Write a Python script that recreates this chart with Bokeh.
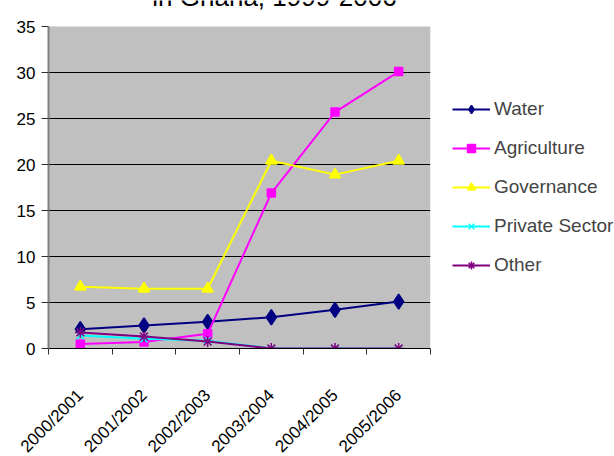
import math
from bokeh.plotting import figure
from bokeh.models import Range1d, FixedTicker, Legend, LegendItem, Label, BoxAnnotation
from bokeh.embed import file_html
from bokeh.resources import INLINE

categories = ["2000/2001", "2001/2002", "2002/2003", "2003/2004", "2004/2005", "2005/2006"]
water = [2.1, 2.5, 2.9, 3.4, 4.2, 5.1]
agriculture = [0.5, 0.7, 1.6, 16.9, 25.7, 30.1]
governance = [6.7, 6.5, 6.5, 20.4, 18.9, 20.4]
private_sector = [1.4, 1.05, 0.85, 0.0, 0.0, 0.0]
other = [1.75, 1.3, 0.75, 0.0, 0.0, 0.0]
y_ticks = [0, 5, 10, 15, 20, 25, 30, 35]
title_text = "in Ghana, 1999-2006"

FONT = "Liberation Sans"
xs = [i + 0.5 for i in range(len(categories))]
y_max = y_ticks[-1]
px_per_unit = 322 / y_max
frame_h = 348
frame_w = 382
y_top = frame_h / px_per_unit

p = figure(frame_width=frame_w, frame_height=frame_h, output_backend="svg", toolbar_location=None,
           x_range=Range1d(0, len(categories)), y_range=Range1d(0, y_top),
           min_border_left=48, min_border_right=184, min_border_top=0, min_border_bottom=108)
p.background_fill_color = "white"
p.border_fill_color = "white"
p.outline_line_color = None

# gray plot area only up to the top tick; frame extends to the canvas top so the title is clipped
p.add_layout(BoxAnnotation(left=0, right=len(categories), bottom=0, top=y_max,
                           fill_color="#C0C0C0", fill_alpha=1.0, line_color=None, level="image"))

xa = p.xaxis[0]
xa.ticker = FixedTicker(ticks=xs, minor_ticks=list(range(len(categories) + 1)))
xa.major_label_overrides = {x: c for x, c in zip(xs, categories)}
xa.major_tick_out = 0
xa.major_tick_in = 0
xa.minor_tick_out = 6
xa.minor_tick_in = 0
xa.minor_tick_line_color = "#303030"
xa.axis_line_color = "black"
xa.major_label_orientation = math.pi / 4
xa.major_label_standoff = 38
xa.major_label_text_font = FONT
xa.major_label_text_font_size = "17px"
xa.major_label_text_color = "black"

ya = p.yaxis[0]
ya.ticker = FixedTicker(ticks=y_ticks)
ya.bounds = (0, y_max)
ya.major_tick_out = 7
ya.major_tick_in = 0
ya.minor_tick_line_color = None
ya.axis_line_color = "#808080"
ya.axis_line_width = 2
ya.major_tick_line_color = "#303030"
ya.major_label_standoff = 6
ya.major_label_text_font = FONT
ya.major_label_text_font_size = "17px"
ya.major_label_text_color = "black"

p.xgrid.visible = False
p.ygrid.ticker = FixedTicker(ticks=y_ticks[:-1])
p.ygrid.grid_line_color = "black"
p.ygrid.grid_line_alpha = 1.0

series = [
    ("Water", water, "#000080", "diamond", 15),
    ("Agriculture", agriculture, "#FF00FF", "square", 8),
    ("Governance", governance, "#FFFF00", "triangle", 11),
    ("Private Sector", private_sector, "#00FFFF", "x", 10),
    ("Other", other, "#800080", "asterisk", 11),
]
items = []
for name, vals, color, marker, size in series:
    l = p.line(xs, vals, line_color=color, line_width=2)
    s = p.scatter(xs, vals, marker=marker, size=size, fill_color=color, line_color=color, line_width=1.5)
    items.append(LegendItem(label=name, renderers=[l, s]))

legend = Legend(items=items, location=(22, 72), glyph_width=38, glyph_height=20,
                label_height=20, spacing=17, padding=0, margin=0,
                border_line_color=None, background_fill_alpha=0,
                label_text_font=FONT, label_text_font_size="19px", label_standoff=4)
p.add_layout(legend, "right")

title_center_px = 226  # from frame left
p.add_layout(Label(x=title_center_px / frame_w * len(categories), y=(frame_h + 4) / px_per_unit,
                   text=title_text, text_align="center", text_baseline="alphabetic",
                   text_font=FONT, text_font_size="26px", text_color="black"))

open("out.html", "w").write(file_html(p, INLINE))
